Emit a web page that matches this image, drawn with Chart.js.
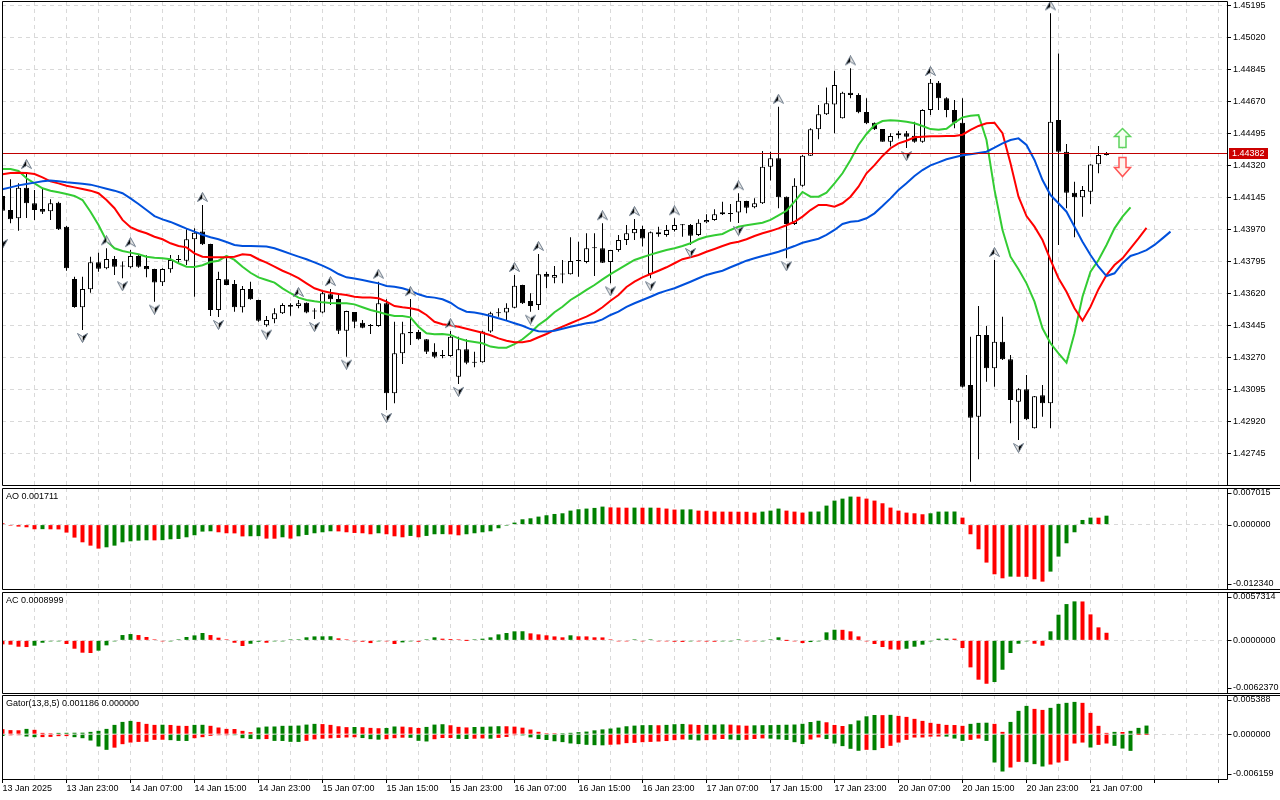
<!DOCTYPE html>
<html lang="en">
<head>
<meta charset="UTF-8">
<title>H1 chart - Alligator, Fractals, AO, AC, Gator</title>
<style>
    html, body { margin: 0; padding: 0; background: #ffffff; }
    #board { position: relative; width: 1280px; height: 800px; overflow: hidden; background: #ffffff; }
    #board canvas { position: absolute; left: 0; }
</style>
<script src="https://cdn.jsdelivr.net/npm/chart.js"></script>
</head>
<body>
<div id="board">
    <canvas id="mainChart" width="1280" height="487" style="top:0px"></canvas>
    <canvas id="aoChart" width="1280" height="104" style="top:487px"></canvas>
    <canvas id="acChart" width="1280" height="104" style="top:591px"></canvas>
    <canvas id="gatorChart" width="1280" height="106" style="top:694px"></canvas>
</div>

<script>
// bar 0 = 13 Jan 15:00, one bar per hour, weekend gap after 17 Jan 23:00
const opens = [
    1.44154, 1.44077, 1.44032, 1.44199, 1.44114, 1.44083, 1.44070, 1.44117, 1.43986, 1.43700,
    1.43545, 1.43644, 1.43791, 1.43758, 1.43809, 1.43771, 1.43764, 1.43826, 1.43771, 1.43755,
    1.43682, 1.43753, 1.43804, 1.43800, 1.43917, 1.43959, 1.43891, 1.43530, 1.43698, 1.43673,
    1.43545, 1.43645, 1.43585, 1.43447, 1.43479, 1.43512, 1.43558, 1.43552, 1.43570, 1.43525,
    1.43516, 1.43616, 1.43590, 1.43417, 1.43519, 1.43461, 1.43444, 1.43443, 1.43567, 1.43075,
    1.43293, 1.43403, 1.43410, 1.43370, 1.43302, 1.43279, 1.43279, 1.43165, 1.43315, 1.43242,
    1.43244, 1.43412, 1.43512, 1.43516, 1.43543, 1.43667, 1.43580, 1.43558, 1.43727, 1.43707,
    1.43726, 1.43726, 1.43798, 1.43793, 1.43868, 1.43868, 1.43793, 1.43858, 1.43913, 1.43950,
    1.43973, 1.43727, 1.43955, 1.43941, 1.43968, 1.43995, 1.43995, 1.43941, 1.44010, 1.44023,
    1.44054, 1.44055, 1.44063, 1.44127, 1.44092, 1.44114, 1.44314, 1.44360, 1.44150, 1.44001,
    1.44210, 1.44374, 1.44519, 1.44601, 1.44655, 1.44579, 1.44719, 1.44706, 1.44613, 1.44555,
    1.44520, 1.44451, 1.44486, 1.44497, 1.44484, 1.44451, 1.44624, 1.44774, 1.44688, 1.44624,
    1.44555, 1.43120, 1.42947, 1.43394, 1.43211, 1.43357, 1.43261, 1.43029, 1.43097, 1.42883,
    1.43064, 1.43020, 1.44570, 1.44396, 1.44172, 1.44147, 1.44177, 1.44327, 1.44378
];
const highs = [
    1.44198, 1.44245, 1.44223, 1.44285, 1.44187, 1.44198, 1.44136, 1.44123, 1.43990, 1.43712,
    1.43712, 1.43822, 1.43844, 1.43868, 1.43826, 1.43795, 1.43858, 1.43831, 1.43830, 1.43756,
    1.43758, 1.43831, 1.43831, 1.43972, 1.43977, 1.44105, 1.43892, 1.43740, 1.43813, 1.43694,
    1.43662, 1.43685, 1.43586, 1.43497, 1.43540, 1.43567, 1.43567, 1.43585, 1.43571, 1.43540,
    1.43630, 1.43645, 1.43622, 1.43526, 1.43520, 1.43476, 1.43454, 1.43685, 1.43589, 1.43466,
    1.43466, 1.43590, 1.43421, 1.43371, 1.43348, 1.43311, 1.43415, 1.43384, 1.43370, 1.43302,
    1.43417, 1.43521, 1.43540, 1.43567, 1.43722, 1.43668, 1.43622, 1.43837, 1.43740, 1.43771,
    1.43804, 1.43928, 1.43904, 1.43950, 1.43950, 1.44005, 1.43859, 1.43941, 1.43995, 1.44028,
    1.43991, 1.43959, 1.43986, 1.43995, 1.44032, 1.44001, 1.44001, 1.44026, 1.44054, 1.44081,
    1.44123, 1.44110, 1.44169, 1.44128, 1.44141, 1.44400, 1.44396, 1.44642, 1.44151, 1.44251,
    1.44378, 1.44524, 1.44652, 1.44748, 1.44839, 1.44724, 1.44852, 1.44716, 1.44688, 1.44556,
    1.44521, 1.44497, 1.44509, 1.44509, 1.44560, 1.44628, 1.44794, 1.44783, 1.44694, 1.44679,
    1.44688, 1.43384, 1.43552, 1.43443, 1.43804, 1.43494, 1.43284, 1.43102, 1.43175, 1.43060,
    1.43120, 1.45153, 1.44934, 1.44438, 1.44232, 1.44209, 1.44327, 1.44427, 1.44395
];
const lows = [
    1.43935, 1.44005, 1.43964, 1.44034, 1.44023, 1.44055, 1.44023, 1.43968, 1.43745, 1.43543,
    1.43421, 1.43625, 1.43740, 1.43753, 1.43722, 1.43704, 1.43758, 1.43762, 1.43709, 1.43576,
    1.43662, 1.43734, 1.43786, 1.43776, 1.43603, 1.43886, 1.43497, 1.43492, 1.43665, 1.43521,
    1.43516, 1.43587, 1.43466, 1.43439, 1.43458, 1.43508, 1.43499, 1.43540, 1.43512, 1.43481,
    1.43512, 1.43558, 1.43399, 1.43275, 1.43430, 1.43430, 1.43399, 1.43439, 1.42983, 1.43020,
    1.43235, 1.43339, 1.43368, 1.43290, 1.43266, 1.43266, 1.43275, 1.43126, 1.43233, 1.43217,
    1.43242, 1.43406, 1.43494, 1.43476, 1.43540, 1.43563, 1.43521, 1.43530, 1.43649, 1.43676,
    1.43676, 1.43725, 1.43712, 1.43786, 1.43716, 1.43788, 1.43676, 1.43849, 1.43886, 1.43913,
    1.43877, 1.43704, 1.43931, 1.43931, 1.43959, 1.43931, 1.43886, 1.43935, 1.44005, 1.44019,
    1.44050, 1.44013, 1.44006, 1.44059, 1.44087, 1.44110, 1.44238, 1.44087, 1.43813, 1.43995,
    1.44205, 1.44373, 1.44464, 1.44597, 1.44497, 1.44578, 1.44688, 1.44606, 1.44548, 1.44515,
    1.44450, 1.44424, 1.44469, 1.44416, 1.44445, 1.44445, 1.44597, 1.44624, 1.44584, 1.44524,
    1.43107, 1.42591, 1.42714, 1.43138, 1.43111, 1.43257, 1.42911, 1.42819, 1.42929, 1.42882,
    1.42947, 1.42883, 1.43886, 1.44087, 1.43928, 1.44041, 1.44110, 1.44278, 1.44375
];
const closes = [
    1.44073, 1.44026, 1.44199, 1.44114, 1.44077, 1.44068, 1.44114, 1.43972, 1.43758, 1.43546,
    1.43645, 1.43791, 1.43756, 1.43809, 1.43767, 1.43768, 1.43826, 1.43767, 1.43753, 1.43680,
    1.43755, 1.43804, 1.43807, 1.43917, 1.43953, 1.43890, 1.43530, 1.43700, 1.43667, 1.43545,
    1.43645, 1.43589, 1.43472, 1.43476, 1.43512, 1.43558, 1.43548, 1.43567, 1.43516, 1.43522,
    1.43622, 1.43589, 1.43417, 1.43525, 1.43466, 1.43433, 1.43443, 1.43567, 1.43075, 1.43293,
    1.43403, 1.43410, 1.43370, 1.43302, 1.43275, 1.43278, 1.43384, 1.43315, 1.43242, 1.43243,
    1.43412, 1.43512, 1.43514, 1.43543, 1.43663, 1.43567, 1.43552, 1.43726, 1.43712, 1.43722,
    1.43725, 1.43798, 1.43799, 1.43868, 1.43869, 1.43789, 1.43858, 1.43913, 1.43950, 1.43973,
    1.43922, 1.43955, 1.43944, 1.43968, 1.43995, 1.43994, 1.43937, 1.44008, 1.44023, 1.44054,
    1.44065, 1.44061, 1.44128, 1.44090, 1.44114, 1.44314, 1.44360, 1.44147, 1.44001, 1.44210,
    1.44374, 1.44519, 1.44601, 1.44661, 1.44761, 1.44719, 1.44706, 1.44612, 1.44552, 1.44519,
    1.44451, 1.44482, 1.44497, 1.44478, 1.44451, 1.44624, 1.44774, 1.44688, 1.44624, 1.44555,
    1.43111, 1.42941, 1.43394, 1.43211, 1.43357, 1.43261, 1.43038, 1.43097, 1.42932, 1.43059,
    1.43020, 1.44560, 1.44396, 1.44172, 1.44147, 1.44187, 1.44326, 1.44378, 1.44382
];

// Alligator lines as drawn (already shifted 8 / 5 / 3 bars forward)
const jaw = [
    1.44191, 1.44201, 1.44212, 1.44220, 1.44227, 1.44234, 1.44238, 1.44234, 1.44229, 1.44225,
    1.44221, 1.44216, 1.44205, 1.44194, 1.44183, 1.44169, 1.44141, 1.44110, 1.44077, 1.44044,
    1.44026, 1.44012, 1.43994, 1.43975, 1.43959, 1.43942, 1.43928, 1.43917, 1.43902, 1.43886,
    1.43880, 1.43880, 1.43879, 1.43877, 1.43868, 1.43853, 1.43837, 1.43822, 1.43808, 1.43791,
    1.43773, 1.43753, 1.43727, 1.43709, 1.43702, 1.43694, 1.43685, 1.43676, 1.43662, 1.43658,
    1.43649, 1.43636, 1.43616, 1.43603, 1.43598, 1.43589, 1.43570, 1.43540, 1.43521, 1.43516,
    1.43508, 1.43497, 1.43485, 1.43472, 1.43458, 1.43444, 1.43426, 1.43414, 1.43412, 1.43417,
    1.43428, 1.43439, 1.43448, 1.43458, 1.43463, 1.43479, 1.43503, 1.43521, 1.43547, 1.43567,
    1.43585, 1.43603, 1.43622, 1.43636, 1.43649, 1.43667, 1.43685, 1.43704, 1.43722, 1.43734,
    1.43745, 1.43764, 1.43782, 1.43800, 1.43813, 1.43826, 1.43837, 1.43849, 1.43864, 1.43880,
    1.43898, 1.43909, 1.43920, 1.43941, 1.43968, 1.44001, 1.44013, 1.44017, 1.44032, 1.44059,
    1.44099, 1.44141, 1.44187, 1.44223, 1.44263, 1.44296, 1.44321, 1.44338, 1.44355, 1.44366,
    1.44377, 1.44382, 1.44389, 1.44396, 1.44418, 1.44442, 1.44460, 1.44469, 1.44433, 1.44351,
    1.44241, 1.44159, 1.44114, 1.44068, 1.43986, 1.43904, 1.43831, 1.43767, 1.43716, 1.43731,
    1.43786, 1.43826, 1.43840, 1.43858, 1.43886, 1.43922, 1.43959
];
const teeth = [
    1.44273, 1.44280, 1.44281, 1.44280, 1.44274, 1.44256, 1.44234, 1.44223, 1.44210, 1.44201,
    1.44192, 1.44183, 1.44169, 1.44132, 1.44087, 1.44023, 1.43983, 1.43964, 1.43950, 1.43931,
    1.43917, 1.43895, 1.43880, 1.43873, 1.43840, 1.43822, 1.43819, 1.43819, 1.43819, 1.43822,
    1.43835, 1.43831, 1.43808, 1.43789, 1.43767, 1.43745, 1.43727, 1.43704, 1.43676, 1.43649,
    1.43634, 1.43625, 1.43618, 1.43612, 1.43603, 1.43598, 1.43598, 1.43594, 1.43576, 1.43552,
    1.43545, 1.43540, 1.43530, 1.43503, 1.43466, 1.43452, 1.43447, 1.43439, 1.43428, 1.43417,
    1.43406, 1.43392, 1.43375, 1.43362, 1.43354, 1.43354, 1.43362, 1.43381, 1.43399, 1.43421,
    1.43439, 1.43458, 1.43476, 1.43494, 1.43516, 1.43545, 1.43581, 1.43612, 1.43656, 1.43685,
    1.43709, 1.43727, 1.43745, 1.43764, 1.43786, 1.43808, 1.43819, 1.43831, 1.43849, 1.43864,
    1.43880, 1.43895, 1.43904, 1.43917, 1.43935, 1.43950, 1.43962, 1.43977, 1.43994, 1.44013,
    1.44041, 1.44077, 1.44105, 1.44105, 1.44095, 1.44114, 1.44150, 1.44205, 1.44278, 1.44323,
    1.44373, 1.44415, 1.44442, 1.44456, 1.44475, 1.44478, 1.44480, 1.44480, 1.44482, 1.44482,
    1.44489, 1.44515, 1.44537, 1.44552, 1.44555, 1.44497, 1.44333, 1.44150, 1.44044, 1.43986,
    1.43913, 1.43804, 1.43704, 1.43630, 1.43540, 1.43472, 1.43548, 1.43644, 1.43722, 1.43776,
    1.43813, 1.43868, 1.43922, 1.43980
];
const lips = [
    1.44302, 1.44302, 1.44291, 1.44251, 1.44223, 1.44196, 1.44183, 1.44174, 1.44165, 1.44154,
    1.44132, 1.44068, 1.43995, 1.43909, 1.43868, 1.43853, 1.43844, 1.43835, 1.43822, 1.43816,
    1.43813, 1.43808, 1.43786, 1.43767, 1.43766, 1.43775, 1.43793, 1.43800, 1.43826, 1.43804,
    1.43767, 1.43734, 1.43709, 1.43694, 1.43680, 1.43649, 1.43622, 1.43598, 1.43585, 1.43578,
    1.43572, 1.43569, 1.43567, 1.43567, 1.43561, 1.43545, 1.43530, 1.43519, 1.43507, 1.43497,
    1.43497, 1.43490, 1.43439, 1.43403, 1.43397, 1.43399, 1.43394, 1.43375, 1.43362, 1.43355,
    1.43348, 1.43330, 1.43324, 1.43324, 1.43344, 1.43370, 1.43406, 1.43448, 1.43479, 1.43518,
    1.43548, 1.43585, 1.43612, 1.43640, 1.43667, 1.43698, 1.43726, 1.43753, 1.43779, 1.43804,
    1.43819, 1.43833, 1.43846, 1.43858, 1.43868, 1.43880, 1.43895, 1.43917, 1.43931, 1.43939,
    1.43946, 1.43968, 1.43986, 1.43994, 1.44001, 1.44008, 1.44023, 1.44048, 1.44073, 1.44123,
    1.44176, 1.44150, 1.44150, 1.44172, 1.44223, 1.44278, 1.44351, 1.44433, 1.44493, 1.44542,
    1.44564, 1.44568, 1.44566, 1.44560, 1.44552, 1.44537, 1.44520, 1.44516, 1.44522, 1.44555,
    1.44584, 1.44593, 1.44597, 1.44460, 1.44187, 1.43968, 1.43822, 1.43753, 1.43676, 1.43576,
    1.43430, 1.43348, 1.43293, 1.43242, 1.43403, 1.43603, 1.43740, 1.43804, 1.43886, 1.43977,
    1.44041, 1.44092
];

// bar indices carrying a fractal mark
const fractalUp = [3, 13, 16, 25, 37, 41, 47, 51, 56, 64, 67, 75, 79, 84, 92, 97, 106, 116, 124, 131];
const fractalDown = [0, 10, 15, 19, 27, 33, 39, 43, 48, 57, 66, 76, 81, 86, 92, 98, 113, 121, 127];

const aoValues = [
    0.00026, -0.00013, -0.00038, -0.00051, -0.00089, -0.00087, -0.00090, -0.00092, -0.00153, -0.00249,
    -0.00339, -0.00403, -0.00460, -0.00435, -0.00403, -0.00339, -0.00320, -0.00307, -0.00300, -0.00302,
    -0.00298, -0.00281, -0.00275, -0.00243, -0.00204, -0.00134, -0.00128, -0.00147, -0.00166, -0.00168,
    -0.00226, -0.00223, -0.00221, -0.00268, -0.00270, -0.00243, -0.00268, -0.00224, -0.00198, -0.00166,
    -0.00147, -0.00128, -0.00130, -0.00147, -0.00160, -0.00166, -0.00185, -0.00166, -0.00185, -0.00224,
    -0.00243, -0.00217, -0.00243, -0.00217, -0.00185, -0.00183, -0.00187, -0.00205, -0.00185, -0.00166,
    -0.00147, -0.00128, -0.00070, -0.00013, 0.00038, 0.00102, 0.00121, 0.00153, 0.00179, 0.00204,
    0.00217, 0.00268, 0.00294, 0.00307, 0.00320, 0.00345, 0.00330, 0.00327, 0.00324, 0.00326,
    0.00324, 0.00325, 0.00323, 0.00307, 0.00288, 0.00290, 0.00292, 0.00268, 0.00266, 0.00250,
    0.00249, 0.00248, 0.00247, 0.00246, 0.00230, 0.00249, 0.00268, 0.00307, 0.00268, 0.00249,
    0.00230, 0.00249, 0.00251, 0.00364, 0.00460, 0.00498, 0.00537, 0.00535, 0.00498, 0.00460,
    0.00409, 0.00326, 0.00268, 0.00230, 0.00217, 0.00198, 0.00217, 0.00249, 0.00250, 0.00251,
    0.00134, -0.00185, -0.00473, -0.00728, -0.00952, -0.01029, -0.00997, -0.00999, -0.01001, -0.01048,
    -0.01093, -0.00901, -0.00613, -0.00358, -0.00147, 0.00089, 0.00134, 0.00133, 0.001711
];
const acValues = [
    -0.00047, -0.00051, -0.00075, -0.00079, -0.00063, -0.00028, -0.00012, -0.00004, -0.00043, -0.00099,
    -0.00146, -0.00150, -0.00122, -0.00059, -0.00008, 0.00063, 0.00075, 0.00063, 0.00040, 0.00004,
    -0.00004, -0.00002, 0.00012, 0.00040, 0.00059, 0.00087, 0.00063, 0.00032, 0.00002, -0.00028,
    -0.00067, -0.00040, -0.00016, -0.00028, -0.00004, -0.00002, 0.00002, 0.00008, 0.00036, 0.00047,
    0.00048, 0.00049, 0.00024, 0.00004, -0.00012, -0.00016, -0.00032, -0.00002, -0.00005, -0.00043,
    -0.00024, -0.00003, -0.00016, 0.00001, 0.00036, 0.00020, 0.00016, 0.00002, 0.00000, 0.00002,
    0.00020, 0.00036, 0.00071, 0.00087, 0.00107, 0.00108, 0.00083, 0.00071, 0.00060, 0.00047,
    0.00036, 0.00060, 0.00048, 0.00047, 0.00036, 0.00035, 0.00002, -0.00001, -0.00002, 0.00001,
    -0.00001, 0.00001, -0.00002, -0.00004, -0.00016, -0.00018, -0.00003, -0.00012, -0.00014, -0.00016,
    -0.00003, -0.00002, 0.00001, -0.00002, -0.00012, -0.00003, 0.00008, 0.00036, 0.00000, -0.00002,
    -0.00032, -0.00020, -0.00004, 0.00095, 0.00126, 0.00125, 0.00107, 0.00047, -0.00008, -0.00043,
    -0.00079, -0.00107, -0.00110, -0.00099, -0.00075, -0.00051, -0.00004, 0.00020, 0.00021, 0.00020,
    -0.00091, -0.00320, -0.00466, -0.00514, -0.00494, -0.00348, -0.00150, -0.00040, -0.00008, -0.00040,
    -0.00063, 0.00107, 0.00304, 0.00430, 0.00462, 0.00461, 0.00308, 0.00154, 0.0008999
];
const gatorUpper = [
    0.00069, 0.00056, 0.00054, 0.00073, 0.00060, 0.00018, 0.00004, 0.00018, 0.00019, 0.00020,
    0.00021, 0.00032, 0.00046, 0.00073, 0.00128, 0.00169, 0.00183, 0.00169, 0.00142, 0.00128,
    0.00130, 0.00127, 0.00116, 0.00114, 0.00128, 0.00129, 0.00115, 0.00092, 0.00073, 0.00071,
    0.00046, 0.00028, 0.00092, 0.00105, 0.00106, 0.00115, 0.00116, 0.00119, 0.00132, 0.00142,
    0.00139, 0.00128, 0.00109, 0.00097, 0.00099, 0.00096, 0.00087, 0.00082, 0.00086, 0.00106,
    0.00104, 0.00096, 0.00086, 0.00100, 0.00132, 0.00137, 0.00123, 0.00101, 0.00093, 0.00099,
    0.00102, 0.00105, 0.00110, 0.00109, 0.00104, 0.00090, 0.00064, 0.00033, 0.00013, 0.00004,
    0.00011, 0.00019, 0.00028, 0.00036, 0.00053, 0.00066, 0.00078, 0.00091, 0.00109, 0.00118,
    0.00124, 0.00125, 0.00123, 0.00128, 0.00137, 0.00141, 0.00134, 0.00127, 0.00128, 0.00130,
    0.00135, 0.00131, 0.00122, 0.00117, 0.00122, 0.00124, 0.00125, 0.00128, 0.00130, 0.00133,
    0.00143, 0.00168, 0.00185, 0.00164, 0.00127, 0.00113, 0.00137, 0.00188, 0.00246, 0.00264,
    0.00262, 0.00266, 0.00252, 0.00238, 0.00211, 0.00183, 0.00156, 0.00142, 0.00128, 0.00126,
    0.00115, 0.00142, 0.00156, 0.00158, 0.00142, 0.00032, 0.00169, 0.00321, 0.00389, 0.00348,
    0.00334, 0.00362, 0.00417, 0.00431, 0.00444, 0.00431, 0.00293, 0.00115, 0.00018, 0.00032,
    0.00030, 0.00046, 0.00087, 0.001186
];
const gatorLower = [
    -0.00025, -0.00015, -0.00010, -0.00032, -0.00041, -0.00040, -0.00037, -0.00027, -0.00026, -0.00041,
    -0.00055, -0.00087, -0.00169, -0.00215, -0.00185, -0.00137, -0.00115, -0.00106, -0.00104, -0.00078,
    -0.00076, -0.00082, -0.00092, -0.00093, -0.00055, -0.00041, -0.00023, -0.00014, -0.00005, -0.00009,
    -0.00055, -0.00065, -0.00069, -0.00067, -0.00092, -0.00093, -0.00105, -0.00106, -0.00091, -0.00071,
    -0.00062, -0.00056, -0.00051, -0.00045, -0.00042, -0.00053, -0.00068, -0.00075, -0.00069, -0.00055,
    -0.00048, -0.00050, -0.00091, -0.00100, -0.00069, -0.00053, -0.00052, -0.00064, -0.00066, -0.00062,
    -0.00058, -0.00062, -0.00051, -0.00038, -0.00010, -0.00016, -0.00044, -0.00067, -0.00080, -0.00097,
    -0.00109, -0.00127, -0.00136, -0.00146, -0.00151, -0.00153, -0.00145, -0.00141, -0.00123, -0.00119,
    -0.00110, -0.00106, -0.00101, -0.00094, -0.00082, -0.00072, -0.00076, -0.00086, -0.00082, -0.00075,
    -0.00066, -0.00073, -0.00082, -0.00077, -0.00066, -0.00058, -0.00061, -0.00071, -0.00079, -0.00110,
    -0.00135, -0.00073, -0.00045, -0.00067, -0.00128, -0.00164, -0.00201, -0.00228, -0.00215, -0.00219,
    -0.00191, -0.00160, -0.00115, -0.00078, -0.00046, -0.00045, -0.00033, -0.00032, -0.00033, -0.00060,
    -0.00092, -0.00078, -0.00060, -0.00092, -0.00389, -0.00513, -0.00458, -0.00380, -0.00385, -0.00412,
    -0.00444, -0.00417, -0.00389, -0.00366, -0.00128, -0.00115, -0.00183, -0.00147, -0.00128, -0.00160,
    -0.00197, -0.00229, 0, 0
];

const priceTicks = [1.45195, 1.45020, 1.44845, 1.44670, 1.44495, 1.44320, 1.44145, 1.43970,
                    1.43795, 1.43620, 1.43445, 1.43270, 1.43095, 1.42920, 1.42745];
// one label every 8 bars, starting at bar 0
const timeLabels = ['13 Jan 2025', '13 Jan 23:00', '14 Jan 07:00', '14 Jan 15:00', '14 Jan 23:00',
                    '15 Jan 07:00', '15 Jan 15:00', '15 Jan 23:00', '16 Jan 07:00', '16 Jan 15:00',
                    '16 Jan 23:00', '17 Jan 07:00', '17 Jan 15:00', '17 Jan 23:00', '20 Jan 07:00',
                    '20 Jan 15:00', '20 Jan 23:00', '21 Jan 07:00'];

const lastPrice = closes[closes.length - 1];
const signalBar = 140;
const signalUpPrice = 1.44474;
const signalDownPrice = 1.44315;

// ---- look ----
const GREEN = '#008000';
const RED = '#ff0000';
const GRID = '#d9d9d9';
const FONT = '9px "Liberation Sans", Arial, sans-serif';
const X_MIN = -0.0625;   // bar i lands on pixel 2.5 + 8 * i
const X_MAX = 153.0625;

Chart.defaults.font.family = '"Liberation Sans", Arial, sans-serif';
Chart.defaults.font.size = 9;
Chart.defaults.color = '#000';

function pts(values) {
    return values.map((v, i) => ({ x: i, y: v }));
}

function histColors(values, first, byAbs) {
    return values.map((v, i) => {
        if (i === 0) return first;
        const cur = byAbs ? Math.abs(v) : v;
        const prev = byAbs ? Math.abs(values[i - 1]) : values[i - 1];
        return cur > prev ? GREEN : RED;
    });
}

function histogram(values, colors) {
    return {
        type: 'bar',
        data: pts(values),
        backgroundColor: colors,
        borderWidth: 0,
        barThickness: 4,
        grouped: false,
        minBarLength: 1,
        inflateAmount: 0
    };
}

function xAxis(showLabels) {
    return {
        type: 'linear',
        min: X_MIN,
        max: X_MAX,
        offset: false,
        afterBuildTicks: s => {
            s.ticks = [];
            for (let v = 0; v <= 152; v += 4) s.ticks.push({ value: v });
        },
        afterFit: s => {
            s.height = showLabels ? 21 : 0;
            s.paddingLeft = 0;
            s.paddingRight = 0;
        },
        grid: {
            offset: false,
            color: GRID,
            drawTicks: showLabels,
            tickLength: 4,
            tickBorderDash: [],
            tickColor: c => (c.tick && c.tick.value % 8 === 0) ? '#000' : 'rgba(0,0,0,0)'
        },
        border: { display: false, dash: [4, 4] },
        ticks: {
            display: showLabels,
            autoSkip: false,
            maxRotation: 0,
            minRotation: 0,
            align: 'start',
            padding: 0,
            color: '#000',
            callback: v => (v % 8 === 0 ? (timeLabels[v / 8] || '') : '')
        }
    };
}

// frame, title and right-hand value labels of a panel
function panelDecor(opts) {
    return {
        id: 'panelDecor',
        afterDraw(chart) {
            const { ctx, chartArea: a, scales: { y } } = chart;
            const L = a.left + 0.5, R = a.right + 0.5, T = a.top + 0.5, B = a.bottom + 0.5;
            ctx.save();
            ctx.strokeStyle = '#000';
            ctx.lineWidth = 1;
            ctx.beginPath();
            ctx.moveTo(L, T); ctx.lineTo(opts.fullTop ? chart.width : R, T);
            ctx.moveTo(L, B); ctx.lineTo(opts.fullBottom ? chart.width : R, B);
            ctx.moveTo(L, T); ctx.lineTo(L, B);
            ctx.moveTo(R, T); ctx.lineTo(R, B);
            ctx.stroke();

            ctx.font = FONT;
            ctx.fillStyle = '#000';
            ctx.textBaseline = 'middle';
            if (opts.title) ctx.fillText(opts.title, 6, a.top + 8.5);
            (opts.labels || []).forEach(([text, v]) => {
                let py = y.getPixelForValue(v);
                py = Math.min(Math.max(py, a.top + 5), a.bottom - 5);
                const ty = Math.round(py) + 0.5;
                ctx.beginPath();
                ctx.moveTo(R, ty);
                ctx.lineTo(R + 4, ty);
                ctx.stroke();
                ctx.fillText(text, a.right + 6, py);
            });
            ctx.restore();
        }
    };
}

function drawSignalArrow(ctx, x, yc, up) {
    const t = Math.round(yc - 9.5) + 0.5;
    ctx.save();
    ctx.beginPath();
    if (up) {
        ctx.moveTo(x, t);
        ctx.lineTo(x + 8, t + 8);
        ctx.lineTo(x + 3.5, t + 8);
        ctx.lineTo(x + 3.5, t + 19);
        ctx.lineTo(x - 3.5, t + 19);
        ctx.lineTo(x - 3.5, t + 8);
        ctx.lineTo(x - 8, t + 8);
    } else {
        ctx.moveTo(x - 3.5, t);
        ctx.lineTo(x + 3.5, t);
        ctx.lineTo(x + 3.5, t + 10);
        ctx.lineTo(x + 8, t + 10);
        ctx.lineTo(x, t + 19);
        ctx.lineTo(x - 8, t + 10);
        ctx.lineTo(x - 3.5, t + 10);
    }
    ctx.closePath();
    ctx.fillStyle = up ? '#f4fff0' : '#fff4ee';
    ctx.fill();
    ctx.lineWidth = 1.5;
    ctx.strokeStyle = up ? '#5ed35e' : '#ff5555';
    ctx.stroke();
    ctx.restore();
}

const priceTag = {
    id: 'priceTag',
    afterDatasetsDraw(chart) {
        const { ctx, chartArea: a, scales: { x, y } } = chart;
        const py = Math.round(y.getPixelForValue(lastPrice)) - 0.5;
        ctx.save();
        ctx.strokeStyle = '#c00000';
        ctx.lineWidth = 1;
        ctx.beginPath();
        ctx.moveTo(a.left, py);
        ctx.lineTo(a.right, py);
        ctx.stroke();
        const sx = x.getPixelForValue(signalBar);
        drawSignalArrow(ctx, sx, y.getPixelForValue(signalUpPrice), true);
        drawSignalArrow(ctx, sx, y.getPixelForValue(signalDownPrice), false);
        ctx.restore();
    },
    afterDraw(chart) {
        const { ctx, chartArea: a, scales: { y } } = chart;
        const py = Math.round(y.getPixelForValue(lastPrice)) - 0.5;
        ctx.save();
        ctx.font = FONT;
        const label = lastPrice.toFixed(5);
        const w = Math.ceil(ctx.measureText(label).width) + 6;
        ctx.fillStyle = '#cc0000';
        ctx.fillRect(a.right + 2, Math.round(py - 5.5), w, 11);
        ctx.fillStyle = '#ffffff';
        ctx.textBaseline = 'middle';
        ctx.fillText(label, a.right + 5, py + 0.5);
        ctx.restore();
    }
};

// small 3-d arrowheads used by the fractal marks
function makeFractalGlyph(up) {
    const c = document.createElement('canvas');
    c.width = 11;
    c.height = 26;
    const g = c.getContext('2d');
    const tip = up ? 0.5 : 25.5;
    const base = up ? 9.5 : 16.5;
    const notch = up ? 6.5 : 19.5;
    g.fillStyle = '#000';
    g.beginPath();
    g.moveTo(5.5, tip); g.lineTo(5.5, notch); g.lineTo(up ? 0.5 : 10.5, base);
    g.closePath(); g.fill();
    g.fillStyle = '#e8e8e8';
    g.beginPath();
    g.moveTo(5.5, tip); g.lineTo(5.5, notch); g.lineTo(up ? 10.5 : 0.5, base);
    g.closePath(); g.fill();
    g.strokeStyle = '#6d7b8a';
    g.lineWidth = 1;
    g.beginPath();
    g.moveTo(5.5, tip); g.lineTo(10.5, base); g.lineTo(5.5, notch); g.lineTo(0.5, base);
    g.closePath(); g.stroke();
    return c;
}

// ---- main price panel ----
const barIdx = opens.map((_, i) => i);

new Chart(document.getElementById('mainChart'), {
    type: 'bar',
    data: {
        datasets: [
            {
                type: 'scatter',
                data: fractalUp.map(i => ({ x: i, y: highs[i] })),
                pointStyle: makeFractalGlyph(true),
                pointRadius: 5,
                order: 0
            },
            {
                type: 'scatter',
                data: fractalDown.map(i => ({ x: i, y: lows[i] })),
                pointStyle: makeFractalGlyph(false),
                pointRadius: 5,
                order: 0
            },
            { type: 'line', data: pts(jaw), borderColor: '#0050dc', borderWidth: 2, pointRadius: 0, tension: 0, order: 1 },
            { type: 'line', data: pts(teeth), borderColor: '#ff0000', borderWidth: 2, pointRadius: 0, tension: 0, order: 1 },
            { type: 'line', data: pts(lips), borderColor: '#33cc33', borderWidth: 2, pointRadius: 0, tension: 0, order: 1 },
            {
                type: 'bar',
                data: barIdx.map(i => ({ x: i, y: [opens[i], closes[i]] })),
                backgroundColor: barIdx.map(i => (closes[i] >= opens[i] ? '#ffffff' : '#000000')),
                borderColor: '#000000',
                borderWidth: 1,
                borderSkipped: false,
                barThickness: 5,
                minBarLength: 1,
                grouped: false,
                inflateAmount: 0,
                order: 3
            },
            {
                type: 'bar',
                data: barIdx.map(i => ({ x: i, y: [lows[i], highs[i]] })),
                backgroundColor: '#000000',
                borderWidth: 0,
                barThickness: 1,
                grouped: false,
                inflateAmount: 0,
                order: 4
            }
        ]
    },
    options: {
        responsive: false,
        animation: false,
        events: [],
        layout: { autoPadding: false, padding: { left: 2, right: 0, top: 1, bottom: 2 } },
        plugins: { legend: { display: false }, tooltip: { enabled: false } },
        scales: {
            x: xAxis(false),
            y: {
                position: 'right',
                min: 1.425730,
                max: 1.452205,
                afterBuildTicks: s => { s.ticks = priceTicks.map(v => ({ value: v })); },
                afterFit: s => {
                    s.width = 53;
                    s.paddingTop = 0;
                    s.paddingBottom = 0;
                },
                grid: { color: GRID, drawTicks: true, tickLength: 4, tickColor: '#000', tickBorderDash: [] },
                border: { display: false, dash: [4, 4] },
                ticks: { autoSkip: false, padding: 2, color: '#000', callback: v => v.toFixed(5) }
            }
        }
    },
    plugins: [priceTag, panelDecor({ fullTop: false, fullBottom: true })]
});

// ---- indicator panels ----
function subChart(id, datasets, yMin, yMax, showTime, decor) {
    return new Chart(document.getElementById(id), {
        type: 'bar',
        data: { datasets: datasets },
        options: {
            responsive: false,
            animation: false,
            events: [],
            layout: { autoPadding: false, padding: { left: 2, right: 0, top: 1, bottom: showTime ? 0 : 2 } },
            plugins: { legend: { display: false }, tooltip: { enabled: false } },
            scales: {
                x: xAxis(showTime),
                y: {
                    position: 'right',
                    min: yMin,
                    max: yMax,
                    afterBuildTicks: s => { s.ticks = [{ value: 0 }]; },
                    afterFit: s => {
                        s.width = 53;
                        s.paddingTop = 0;
                        s.paddingBottom = 0;
                    },
                    grid: { color: GRID, drawTicks: false },
                    border: { display: false, dash: [4, 4] },
                    ticks: { display: false }
                }
            }
        },
        plugins: [decor]
    });
}

subChart('aoChart',
    [histogram(aoValues, histColors(aoValues, RED, false))],
    -0.012340, 0.007015, false,
    panelDecor({
        fullTop: true, fullBottom: true,
        title: 'AO ' + aoValues[aoValues.length - 1].toFixed(6),
        labels: [['0.007015', 0.007015], ['0.000000', 0], ['-0.012340', -0.012340]]
    }));

subChart('acChart',
    [histogram(acValues, histColors(acValues, RED, false))],
    -0.0062370, 0.0057314, false,
    panelDecor({
        fullTop: true, fullBottom: true,
        title: 'AC ' + acValues[acValues.length - 1].toFixed(7),
        labels: [['0.0057314', 0.0057314], ['0.0000000', 0], ['-0.0062370', -0.0062370]]
    }));

subChart('gatorChart',
    [
        histogram(gatorUpper, histColors(gatorUpper, RED, false)),
        histogram(gatorLower, histColors(gatorLower, GREEN, true))
    ],
    -0.006159, 0.005388, true,
    panelDecor({
        fullTop: true, fullBottom: false,
        title: 'Gator(13,8,5) ' + gatorUpper[gatorUpper.length - 1].toFixed(6) + ' ' +
               Math.abs(gatorLower[gatorLower.length - 1]).toFixed(6),
        labels: [['0.005388', 0.005388], ['0.000000', 0], ['-0.006159', -0.006159]]
    }));
</script>
</body>
</html>
